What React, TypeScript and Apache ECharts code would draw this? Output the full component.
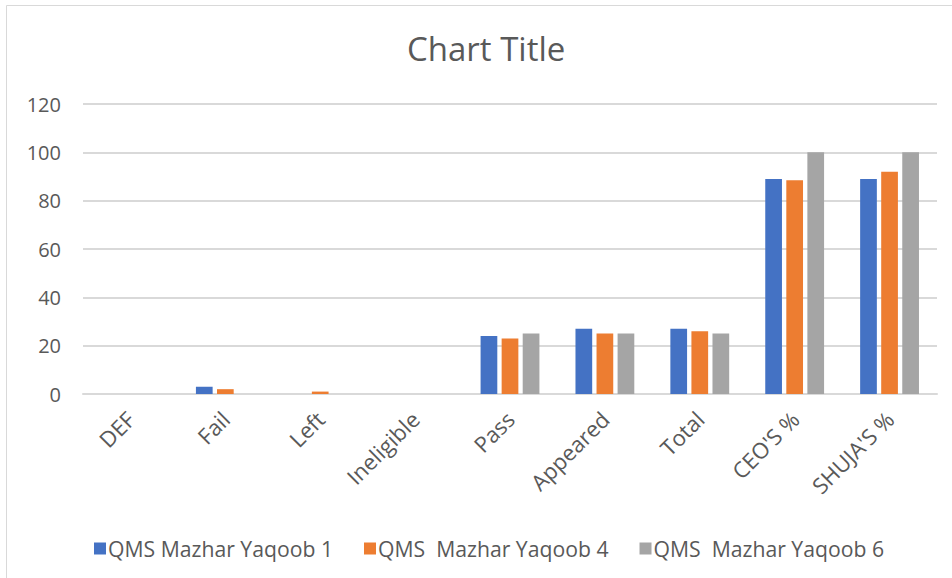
import React, { useEffect, useRef } from "react";
import * as echarts from "echarts";

const categories = ["DEF", "Fail", "Left", "Ineligible", "Pass", "Appeared", "Total", "CEO'S %", "SHUJA'S %"];
const seriesNames = ["QMS Mazhar Yaqoob 1", "QMS  Mazhar Yaqoob 4", "QMS  Mazhar Yaqoob 6"];
const yaqoob1 = [0, 3, 0, 0, 24, 27, 27, 89, 89];
const yaqoob4 = [0, 2, 1, 0, 23, 25, 26, 88.5, 92];
const yaqoob6 = [0, 0, 0, 0, 25, 25, 25, 100, 100];
const colors = ["#4472C4", "#ED7D31", "#A5A5A5"];

const FONT = "'Open Sans', 'Noto Sans', sans-serif";

export default function App() {
  const ref = useRef<HTMLDivElement>(null);
  useEffect(() => {
    if (!ref.current) return;
    const chart = echarts.init(ref.current, undefined, { renderer: "svg" });
    const data = [yaqoob1, yaqoob4, yaqoob6];
    chart.setOption({
      animation: false,
      backgroundColor: "#ffffff",
      title: {
        text: "Chart Title",
        left: 402,
        top: 27,
        textStyle: { fontFamily: FONT, fontSize: 33, fontWeight: "normal", color: "#595959" },
      },
      graphic: [
        {
          type: "rect",
          shape: { x: 6.5, y: 5.5, width: 1200, height: 1200 },
          style: { fill: "none", stroke: "#d9d9d9", lineWidth: 1 },
          silent: true,
        },
      ],
      legend: {
        left: 89,
        top: 533,
        icon: "rect",
        itemWidth: 12,
        itemHeight: 12,
        itemGap: 31,
        textStyle: { fontFamily: FONT, fontSize: 21.2, color: "#595959", padding: [0, 0, 0, -3] },
        data: seriesNames,
      },
      grid: { left: 83, right: 15, top: 104, bottom: 184, containLabel: false },
      xAxis: {
        type: "category",
        data: categories,
        axisLine: { show: true, lineStyle: { color: "#d9d9d9", width: 2 } },
        axisTick: { show: false },
        axisLabel: {
          rotate: 45,
          interval: 0,
          margin: 21,
          fontFamily: FONT,
          fontSize: 22,
          color: "#595959",
        },
      },
      yAxis: {
        type: "value",
        min: 0,
        max: 120,
        interval: 20,
        axisLine: { show: false },
        axisTick: { show: false },
        splitLine: { lineStyle: { color: "#d9d9d9", width: 2 } },
        axisLabel: { fontFamily: FONT, fontSize: 20, color: "#595959", margin: 22 },
      },
      series: seriesNames.map((name, i) => ({
        name,
        type: "bar",
        data: data[i],
        barGap: "26%",
        barCategoryGap: "38%",
        itemStyle: { color: colors[i] },
      })),
    });
    return () => chart.dispose();
  }, []);
  return <div ref={ref} style={{ position: "fixed", left: 0, top: 0, width: 952, height: 578 }} />;
}
